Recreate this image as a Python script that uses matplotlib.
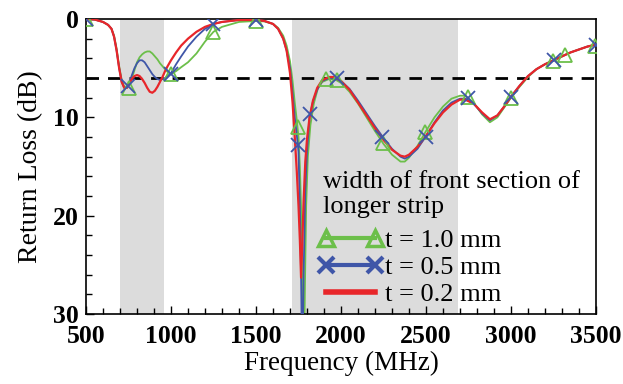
import matplotlib
matplotlib.use("Agg")
import matplotlib.pyplot as plt
from matplotlib.lines import Line2D
from matplotlib.ticker import MultipleLocator

plt.rcParams['font.family'] = ['Liberation Serif', 'DejaVu Serif']
plt.rcParams['lines.scale_dashes'] = False

# ---- data (frequency in MHz, return loss in dB) ----
freq_red = [500, 550, 600, 630, 650, 665, 680, 695, 710, 725, 740, 755, 770, 785, 800, 815, 830, 845, 860, 875,
            890, 905, 920, 935, 950, 965, 980, 1000, 1030, 1060, 1100, 1150, 1200, 1250, 1300, 1400, 1500, 1550,
            1600, 1630, 1660, 1680, 1700, 1715, 1728, 1740, 1750, 1758, 1765, 1772, 1780, 1790, 1800, 1815, 1835,
            1860, 1890, 1930, 1960, 2000, 2050, 2100, 2150, 2200, 2250, 2300, 2350, 2375, 2400, 2450, 2500, 2550,
            2600, 2650, 2700, 2730, 2780, 2830, 2876, 2920, 2960, 3000, 3050, 3100, 3150, 3200, 3250, 3300, 3350,
            3400, 3450, 3500]
rl_red = [0.0, 0.05, 0.3, 0.6, 1.0, 1.8, 3.2, 5.0, 6.4, 7.0, 7.0, 6.6, 6.1, 5.8, 5.7, 5.8, 6.1, 6.5, 7.0, 7.4,
          7.5, 7.3, 6.9, 6.4, 5.9, 5.3, 4.8, 4.2, 3.4, 2.7, 2.0, 1.3, 0.8, 0.5, 0.3, 0.1, 0.1, 0.2,
          0.5, 1.0, 2.0, 3.2, 5.5, 8.5, 12.0, 15.5, 19.0, 22.5, 26.3, 23.0, 18.5, 14.5, 12.2, 10.0, 8.3,
          7.0, 6.2, 5.9, 5.9, 6.3, 7.2, 8.5, 9.8, 11.1, 12.3, 13.3, 13.9, 14.0, 13.8, 13.0, 11.9, 10.6,
          9.5, 8.7, 8.2, 8.2, 8.6, 9.5, 10.2, 9.8, 8.9, 7.9, 6.8, 5.8, 5.1, 4.6, 4.2, 3.8, 3.4,
          3.1, 2.8, 2.6]

freq_blue = [500, 550, 600, 630, 650, 665, 680, 695, 710, 725, 740, 755, 770, 785, 800, 815, 830, 845, 860, 875,
             890, 905, 920, 935, 950, 965, 980, 1000, 1030, 1060, 1100, 1150, 1200, 1250, 1300, 1400, 1500, 1550,
             1600, 1630, 1660, 1680, 1700, 1715, 1728, 1740, 1750, 1758, 1765, 1772, 1780, 1790, 1800, 1815, 1835,
             1860, 1890, 1930, 1960, 2000, 2050, 2100, 2150, 2200, 2250, 2300, 2350, 2375, 2400, 2450, 2500, 2550,
             2600, 2650, 2700, 2730, 2780, 2830, 2876, 2920, 2960, 3000, 3050, 3100, 3150, 3200, 3250, 3300, 3350,
             3400, 3450, 3500]
rl_blue = [0.0, 0.05, 0.3, 0.6, 1.0, 1.8, 3.2, 5.0, 6.4, 7.0, 7.0, 6.5, 5.7, 5.0, 4.5, 4.2, 4.2, 4.4, 4.8, 5.2,
           5.6, 5.9, 6.1, 6.2, 6.1, 6.0, 5.8, 5.5, 4.6, 3.8, 2.8, 1.8, 1.0, 0.5, 0.3, 0.1, 0.1, 0.2,
           0.5, 1.0, 2.0, 3.2, 5.0, 7.5, 10.0, 11.8, 13.5, 19.0, 26.0, 36.0, 26.0, 17.5, 13.5, 10.0, 8.4,
           7.2, 6.3, 6.0, 6.0, 6.3, 7.1, 8.3, 9.6, 10.9, 12.1, 13.2, 14.0, 14.2, 14.0, 13.2, 11.9, 10.5,
           9.3, 8.5, 8.1, 8.1, 8.6, 9.6, 10.3, 9.8, 8.9, 7.9, 6.8, 5.8, 5.1, 4.6, 4.2, 3.8, 3.4,
           3.1, 2.8, 2.6]

freq_green = [500, 550, 600, 630, 650, 665, 680, 695, 710, 725, 740, 755, 770, 785, 800, 815, 830, 845, 860, 875,
              890, 905, 920, 935, 950, 965, 980, 1000, 1030, 1060, 1100, 1150, 1200, 1250, 1300, 1400, 1500, 1550,
              1600, 1630, 1660, 1680, 1700, 1715, 1728, 1740, 1750, 1758, 1765, 1772, 1780, 1788, 1795, 1805, 1820,
              1840, 1865, 1890, 1930, 1960, 2000, 2050, 2100, 2150, 2200, 2250, 2300, 2350, 2375, 2400, 2450, 2500,
              2550, 2600, 2650, 2700, 2730, 2780, 2830, 2876, 2920, 2960, 3000, 3050, 3100, 3150, 3200, 3250, 3300,
              3350, 3400, 3450, 3500]
rl_green = [0.0, 0.05, 0.3, 0.6, 1.0, 1.7, 3.0, 4.8, 6.2, 6.9, 7.0, 6.7, 6.0, 5.2, 4.4, 3.9, 3.6, 3.4, 3.3, 3.3,
            3.5, 3.8, 4.1, 4.5, 4.8, 5.1, 5.4, 5.6, 5.3, 4.9, 4.4, 3.5, 2.3, 1.3, 0.8, 0.3, 0.2, 0.25,
            0.5, 0.9, 1.7, 2.7, 4.3, 6.3, 8.5, 10.3, 12.0, 15.0, 19.0, 27.0, 38.0, 27.0, 19.0, 14.0, 10.8,
            8.6, 7.0, 6.4, 6.1, 6.1, 6.5, 7.4, 8.6, 10.0, 11.4, 12.7, 13.8, 14.5, 14.5, 14.1, 12.9, 11.4,
            10.0, 8.9, 8.1, 7.8, 7.8, 8.5, 9.7, 10.5, 10.0, 9.0, 8.0, 6.9, 5.9, 5.1, 4.6, 4.2, 3.8,
            3.4, 3.1, 2.8, 2.6]

# marker positions
mk_freq_green = [500, 750, 1000, 1250, 1500, 1747, 1910, 1975, 2247, 2494, 2747, 3000, 3247, 3318, 3494]
mk_rl_green = [0.0, 7.0, 5.6, 1.3, 0.2, 11.0, 6.1, 6.2, 12.6, 11.5, 7.9, 8.0, 4.3, 3.7, 2.7]
mk_freq_blue = [500, 745, 1000, 1250, 1500, 1747, 1820, 1975, 2241, 2500, 2750, 3000, 3250, 3500]
mk_rl_blue = [0.0, 6.8, 5.6, 0.5, 0.1, 12.8, 9.7, 6.0, 12.0, 12.0, 8.0, 7.9, 4.2, 2.6]

bands = [(700, 960), (1710, 2690)]
threshold_db = 6
labels = ['t = 1.0 mm', 't = 0.5 mm', 't = 0.2 mm']
legend_title = ['width of front section of', 'longer strip']

c_green = '#6cbf4a'
c_blue = '#3f56a8'
c_red = '#e8262a'

fig = plt.figure(figsize=(6.23, 3.84), dpi=100)
ax = fig.add_axes([86 / 623, 1 - 314 / 384, 510 / 623, 295 / 384])

for lo, hi in bands:
    ax.axvspan(lo, hi, color='#dcdcdc', lw=0, zorder=0)

ax.axhline(threshold_db, color='black', lw=2, dashes=(9, 6.5), zorder=1)

ax.plot(freq_green, rl_green, color=c_green, lw=1.3, zorder=2)
ax.plot(freq_blue, rl_blue, color=c_blue, lw=1.3, zorder=3)
ax.plot(freq_red, rl_red, color=c_red, lw=1.6, zorder=4)
ax.plot(mk_freq_green, mk_rl_green, ls='none', marker='^', ms=10, mfc='none', mec=c_green, mew=1.3, zorder=5)
ax.plot(mk_freq_blue, mk_rl_blue, ls='none', marker='x', ms=10, mec=c_blue, mew=1.3, zorder=5)

ax.set_xlim(500, 3500)
ax.set_ylim(30, 0)
ax.xaxis.set_major_locator(MultipleLocator(500))
ax.xaxis.set_minor_locator(MultipleLocator(100))
ax.yaxis.set_major_locator(MultipleLocator(10))
ax.yaxis.set_minor_locator(MultipleLocator(2))
ax.tick_params(which='both', direction='in', top=False, right=False, labelsize=18.5, width=1)
ax.tick_params(which='major', length=6)
ax.tick_params(axis='x', which='major', pad=8)
ax.tick_params(axis='y', which='major', pad=5)
ax.tick_params(which='minor', length=4)
for lab in ax.get_xticklabels() + ax.get_yticklabels():
    lab.set_fontweight('bold')
for s in ax.spines.values():
    s.set_linewidth(1.2)

ax.set_xlabel('Frequency (MHz)', fontsize=19.5, labelpad=2)
ax.set_ylabel('Return Loss (dB)', fontsize=20, labelpad=7)

# legend header (two lines) and entries
ax.text((323 - 86) / 510, (314 - 188) / 295, legend_title[0], transform=ax.transAxes,
        fontsize=19, va='baseline', ha='left')
ax.text((323 - 86) / 510, (314 - 213) / 295, legend_title[1], transform=ax.transAxes,
        fontsize=19, va='baseline', ha='left')

handles = [
    Line2D([], [], color=c_green, lw=3, marker='^', ms=11, mfc='none', mew=2.5),
    Line2D([], [], color=c_blue, lw=3, marker='x', ms=11, mew=3),
    Line2D([], [], color=c_red, lw=4),
]
leg = ax.legend(handles, labels, loc='upper left', bbox_to_anchor=((318 - 86) / 510, (314 - 229) / 295),
                frameon=False, numpoints=2, fontsize=19, handlelength=2.45, handletextpad=0.1,
                labelspacing=0.12, borderpad=0, borderaxespad=0)

fig.savefig('out.png', dpi=100)
